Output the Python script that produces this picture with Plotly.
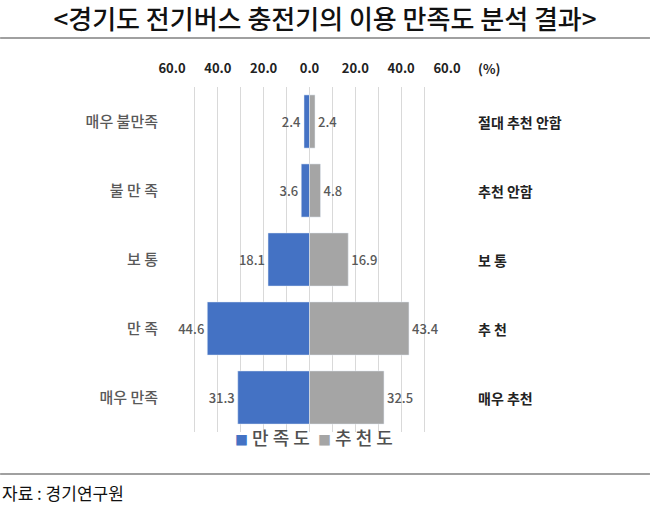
import plotly.graph_objects as go

# 항목 (위에서 아래 순서)
sat_labels = ["매우 불만족", "불 만 족", "보 통", "만 족", "매우 만족"]
rec_labels = ["절대 추천 안함", "추천 안함", "보 통", "추 천", "매우 추천"]

satisfaction = [2.4, 3.6, 18.1, 44.6, 31.3]
recommend = [2.4, 4.8, 16.9, 43.4, 32.5]

series_names = ["만 족 도", "추 천 도"]
series_colors = ["#4472C4", "#A5A5A5"]

tick_vals = [-60, -50, -40, -30, -20, -10, 0, 10, 20, 30, 40, 50, 60]
tick_text = ["60.0", "", "40.0", "", "20.0", "", "0.0", "", "20.0", "", "40.0", "", "60.0"]

font = "Noto Sans CJK KR"
label_grey = "#595959"

fig = go.Figure()
fig.add_trace(go.Bar(
    y=sat_labels, x=[-v for v in satisfaction], orientation="h",
    name=series_names[0], marker_color=series_colors[0],
    text=[f"{v:.1f}" for v in satisfaction], textposition="outside",
    textfont=dict(size=13, color=label_grey, weight=500), cliponaxis=False,
))
fig.add_trace(go.Bar(
    y=sat_labels, x=recommend, orientation="h",
    name=series_names[1], marker_color=series_colors[1],
    text=[f"{v:.1f}" for v in recommend], textposition="outside",
    textfont=dict(size=13, color=label_grey, weight=500), cliponaxis=False,
))

# 오른쪽 추천도 항목
for cat, lab in zip(sat_labels, rec_labels):
    fig.add_annotation(x=1.105, xref="paper", y=cat, yref="y", text=f"<b>{lab}</b>",
                       showarrow=False, xanchor="left",
                       font=dict(size=14, color="#222222", family=font))

# 범례 (네모 바로 옆에 글자)
legend_text = "  ".join(
    f"<span style='color:{c};font-size:13px'>■</span> {n}"
    for n, c in zip(series_names, series_colors))
fig.add_annotation(x=0.22, xref="paper", y=-0.015, yref="paper", text=legend_text,
                   showarrow=False, xanchor="left", yanchor="middle",
                   font=dict(size=18, color="#505050", weight=500))

fig.add_annotation(x=1.105, xref="paper", y=1.055, yref="paper", text="<b>(%)</b>",
                   showarrow=False, xanchor="left", yanchor="middle",
                   font=dict(size=13, color="#222222"))
fig.add_annotation(x=-0.625, xref="paper", y=-0.175, yref="paper", text="자료 : 경기연구원",
                   showarrow=False, xanchor="left", yanchor="middle",
                   font=dict(size=17, color="#111111"))

# 제목 아래/자료 위 구분선
for yy in [1.142, -0.122]:
    fig.add_shape(type="line", xref="paper", yref="paper", x0=-0.625, x1=1.738,
                  y0=yy, y1=yy, line=dict(color="#A0A0A0", width=2))

fig.update_layout(
    width=650, height=523,
    margin=dict(l=172, r=203, t=87, b=91),
    paper_bgcolor="white", plot_bgcolor="white",
    font=dict(family=font),
    barmode="overlay", bargap=0.23,
    title=dict(text="<경기도 전기버스 충전기의 이용 만족도 분석 결과>", x=0.5, xanchor="center",
               y=0.962, yanchor="middle",
               font=dict(size=26, color="#111111", weight=500)),
    xaxis=dict(range=[-60, 60], side="top", tickvals=tick_vals, ticktext=tick_text,
               showgrid=True, gridcolor="#D9D9D9", gridwidth=1, zeroline=False,
               ticks="outside", ticklen=8, tickcolor="white",
               tickfont=dict(size=13, color="#222222", weight="bold"),
               fixedrange=True),
    yaxis=dict(categoryorder="array", categoryarray=sat_labels, autorange="reversed",
               showgrid=False, zeroline=False, ticks="outside", ticklen=10, tickcolor="white",
               tickfont=dict(size=15, color=label_grey, weight=500), fixedrange=True),
    showlegend=False,
)

fig.write_html("out.html", config={"displayModeBar": False},
               post_script="document.body.style.margin='0';")
